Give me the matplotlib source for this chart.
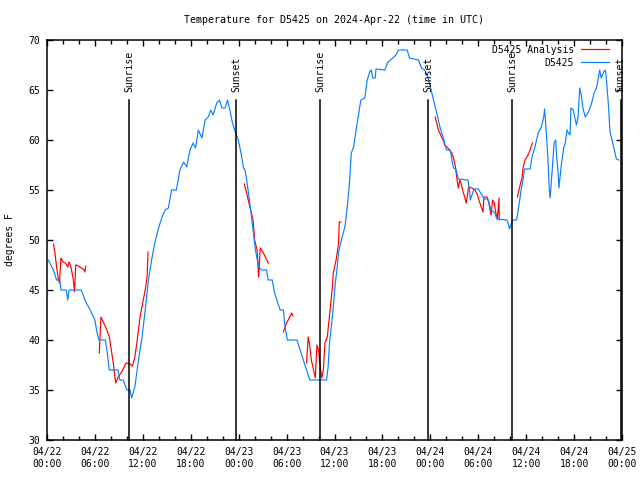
import numpy as np
import pandas as pd
import matplotlib
matplotlib.use('Agg')
import matplotlib.pyplot as plt
import matplotlib.dates as mdates

plt.rcParams['font.family'] = ['DejaVu Sans Mono']
plt.rcParams['font.size'] = 7

start = pd.Timestamp('2024-04-22 00:00')

# observed temps (hours after 04/22 00:00 UTC, deg F)
obs_hours = [0.16, 0.8, 1.2, 1.6, 1.75, 2.4, 2.6, 2.75, 4.3, 4.75, 5.4, 6.0, 6.2, 6.5, 7.3, 7.5, 7.8, 8.9,
             9.1, 9.55, 10.0, 10.4, 10.6, 11.0, 11.4, 11.9, 12.3, 12.7, 13.1, 13.5, 13.9, 14.4, 14.8, 15.2,
             15.6, 16.2, 16.65, 17.1, 17.5, 17.9, 18.3, 18.6, 18.95, 19.4, 19.8, 20.2, 20.5, 20.8, 21.25,
             21.6, 21.9, 22.3, 22.6, 22.9, 23.2, 23.5, 23.95, 24.3, 24.6, 24.8, 25.0, 25.4, 25.8, 26.1, 26.5,
             26.9, 27.5, 27.7, 28.2, 28.5, 28.9, 29.2, 29.6, 29.8, 30.1, 31.3, 31.7, 32.1, 32.5, 32.9, 35.0,
             35.2, 35.4, 35.65, 35.85, 36.1, 36.3, 36.5, 36.85, 37.3, 37.6, 37.9, 38.1, 38.4, 38.7, 38.9,
             39.3, 39.8, 40.1, 40.4, 40.6, 40.8, 41.1, 41.2, 42.3, 42.7, 43.3, 43.7, 44.0, 45.1, 45.4, 46.5,
             46.9, 47.3, 47.7, 48.4, 48.8, 49.2, 49.6, 50.0, 50.5, 50.7, 50.9, 51.2, 51.5, 52.7, 52.9, 53.0,
             53.3, 53.5, 54.0, 54.6, 54.8, 55.2, 55.6, 56.1, 56.3, 57.6, 57.8, 57.9, 58.1, 58.3, 58.8, 59.1,
             59.4, 59.6, 59.8, 60.5, 60.7, 61.1, 61.5, 61.9, 62.2, 62.3, 62.4, 62.7, 62.8, 62.9, 63.0, 63.1,
             63.3, 63.5, 63.7, 63.8, 64.0, 64.1, 64.4, 64.7, 64.9, 65.1, 65.3, 65.5, 65.6, 65.9, 66.1, 66.3,
             66.5, 66.7, 66.9, 67.1, 67.4, 67.8, 68.2, 68.5, 68.8, 69.0, 69.2, 69.4, 69.7, 69.9, 70.0, 70.3,
             70.5, 70.9, 71.3, 71.6]
obs_temps = [48.0, 47, 46, 46, 45, 45, 44, 45, 45, 44, 43, 42, 41, 40, 40, 39, 37, 37,
             36, 36, 35, 35, 34.2, 35.3, 37.7, 40.3, 43, 46, 48, 49.7, 51, 52.3, 53, 53.2,
             55, 55, 57, 57.8, 57.3, 59, 59.7, 59.2, 61, 60.2, 62, 62.3, 63, 62.5, 63.7,
             64, 63.2, 63.2, 64, 63, 61.8, 61, 60, 58.7, 57.2, 57, 56, 53.7, 51, 49, 47.3,
             47, 47, 46, 46, 44.7, 43.7, 43, 43, 41.3, 40, 40, 39, 38, 37, 36, 36,
             37.3, 40, 41.7, 43.3, 45.7, 47, 48.7, 50, 51.3, 53.3, 56, 58.7, 59.3, 61, 62,
             64, 64.2, 66, 66.8, 67, 66.2, 66.2, 67.1, 67, 67.8, 68.2, 68.5, 69, 69, 68.2, 68,
             67.2, 67, 66.3, 64, 62.7, 61.3, 60.3, 59, 59, 58, 57.2, 57.1, 56.1, 56, 55, 54,
             54.7, 55.1, 55.1, 54.3, 54.1, 54.1, 53, 52.7, 52.1, 52, 51.5, 51.1, 51.5, 52, 52, 53.5,
             55.2, 56, 57.1, 57.1, 58.2, 59.3, 60.7, 61.3, 62.3, 63.1, 62.2, 58.5, 56.8, 55, 54.2, 55.2,
             57.5, 59.7, 60, 58.5, 56.8, 55.2, 57.5, 59.2, 59.7, 61, 60.7, 60.5, 63.2, 63, 62.2, 61.5,
             62.3, 65.2, 64.5, 63.2, 62.3, 62.8, 63.7, 64.7, 65.2, 66, 67, 66.2, 66.8, 67, 66.5, 63.5,
             60.8, 59.5, 58.1, 58]

# analysis, broken into pieces (nan = gap)
nan = np.nan
ana_hours = [0.8, 1.0, 1.2, 1.4, 1.55, 1.75, 2.0, 2.3, 2.6, 2.75, 3.0, 3.3, 3.45, 3.6, 3.7, 4.1, 4.55, 4.75, 4.85, nan,
             6.55, 6.75, 7.05, 7.5, 7.8, 8.0, 8.3, 8.6, 8.9, 9.35, 9.9, 10.4, 10.7, 11.0, 11.3, 11.65, 12.05,
             12.3, 12.55, 12.65, nan,
             24.7, 25.0, 25.2, 25.4, 25.6, 25.8, 25.9, 26.0, 26.3, 26.4, 26.5, 26.7, 27.1, 27.7, nan,
             29.6, 30.0, 30.4, 30.65, 30.8, nan,
             32.5, 32.7, 32.85, 33.1, 33.3, 33.6, 33.8, 34.0, 34.2, 34.4, 34.6, 34.8, 35.1, 35.4, 35.7, 35.85,
             36.2, 36.5, 36.6, 36.8, nan,
             48.6, 48.8, 49.0, 49.2, 49.4, 49.6, 49.8, 50.2, 50.7, 50.9, 51.1, 51.3, 51.5, 51.7, 51.9, 52.1,
             52.3, 52.5, 52.8, 53.2, 53.6, 53.9, 54.2, 54.6, 54.7, 55.1, 55.3, 55.6, 55.8, 56.0, 56.2, 56.4,
             56.6, 56.62, nan,
             58.9, 59.1, 59.3, 59.5, 59.6, 59.85, 60.1, 60.4, 60.6, 60.8]
ana_temps = [49.6, 48.7, 47.3, 46.2, 45.7, 48.2, 47.8, 47.7, 47.3, 47.8, 47.3, 46, 44.8, 47.5, 47.5, 47.3, 47.1, 46.8, 47.4, nan,
             38.7, 42.3, 41.8, 41, 40.3, 39.3, 37.7, 35.7, 36.3, 36.8, 37.7, 37.6, 37.4, 38.3, 40, 42.3, 44,
             45, 46.5, 48.8, nan,
             55.6, 54.7, 54, 53.3, 52.7, 52, 51, 50, 49, 47.8, 46.3, 49.2, 48.7, 47.7, nan,
             40.8, 41.7, 42.3, 42.7, 42.4, nan,
             37.7, 40.3, 39.7, 38, 37.3, 36.2, 39.5, 39, 37.5, 36.2, 37, 39.7, 40.3, 42.7, 45, 46.7,
             48, 49.6, 51.8, 51.8, nan,
             62.3, 61.7, 61, 60.7, 60.3, 60, 59.5, 59.2, 58.7, 58.2, 57.5, 56.3, 55.2, 56, 55.5, 54.8,
             54.3, 53.7, 55.3, 55.2, 55, 54.5, 53.7, 52.8, 54.3, 54.3, 53.8, 52.5, 54, 53.7, 52.7, 52.2,
             54.2, 52.0, nan,
             54.3, 55, 55.7, 56.3, 57.2, 58, 58.3, 58.8, 59.3, 59.7]

sun_hours = [10.27, 23.67, 34.18, 47.71, 58.23, 71.84]
sun_labels = ['Sunrise', 'Sunset', 'Sunrise', 'Sunset', 'Sunrise', 'Sunset']


def to_time(hours):
    return start + pd.to_timedelta(np.array(hours, dtype=float), unit='h')


fig = plt.figure(figsize=(6.4, 4.8), dpi=100)
ax = fig.add_axes([47 / 640, 40 / 480, 575 / 640, 400 / 480])

ax.plot(to_time(ana_hours), ana_temps, color='#ff0000', lw=0.85, label='D5425 Analysis')
ax.plot(to_time(obs_hours), obs_temps, color='#0a80ff', lw=0.85, label='D5425')

for h, lab in zip(to_time(sun_hours), sun_labels):
    ax.plot([h, h], [30, 64], color='black', lw=1.1, clip_on=False)
    ax.text(h, 64.8, lab, rotation=90, ha='center', va='bottom', clip_on=False)

ax.set_xlim(start, start + pd.Timedelta(hours=72))
ax.set_ylim(30, 70)
ax.xaxis.set_major_locator(mdates.HourLocator(byhour=[0, 6, 12, 18]))
ax.xaxis.set_minor_locator(mdates.HourLocator(byhour=range(0, 24, 2)))
ax.xaxis.set_major_formatter(mdates.DateFormatter('%m/%d\n%H:%M'))
ax.set_yticks(range(30, 71, 5))
ax.tick_params(which='both', direction='in', top=True, right=True, width=1)
ax.tick_params(which='major', length=4, pad=5)
ax.tick_params(which='minor', length=3)
for s in ax.spines.values():
    s.set_linewidth(1.1)

fig.text(334.5 / 640, 1 - 20 / 480, 'Temperature for D5425 on 2024-Apr-22 (time in UTC)',
         ha='center', va='center', fontsize=7.2)
fig.text(10 / 640, 0.5, 'degrees F', rotation=90, ha='center', va='center')

ax.legend(loc='upper right', bbox_to_anchor=(1 - 8 / 575, 1), frameon=False, markerfirst=False,
          handlelength=2.9, handletextpad=0.7, labelspacing=0.3, borderaxespad=0.3, borderpad=0.2)

fig.savefig('out.png', dpi=100)
